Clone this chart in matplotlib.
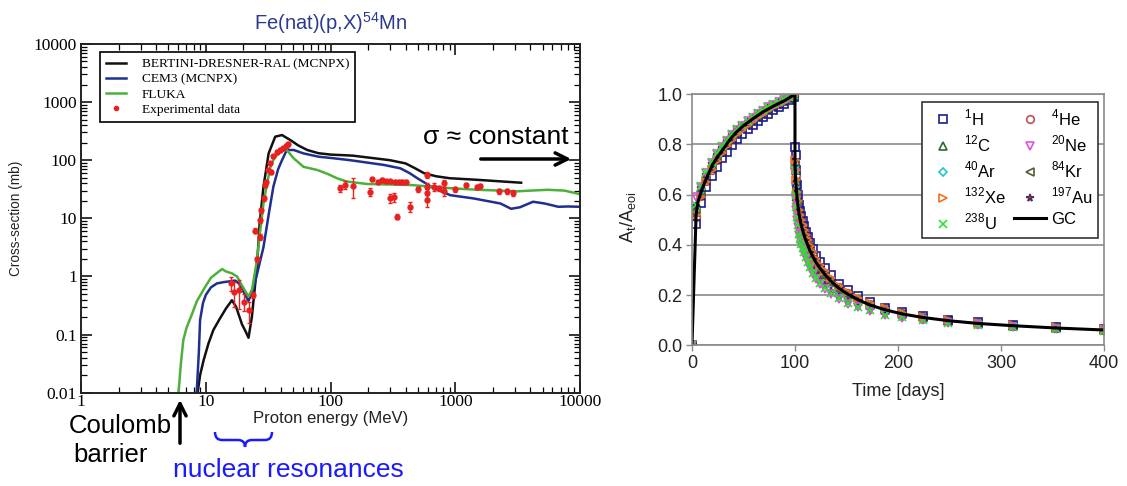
import numpy as np
import matplotlib
matplotlib.use('Agg')
import matplotlib.pyplot as plt
from matplotlib.path import Path
from matplotlib.patches import PathPatch
from matplotlib.lines import Line2D
from matplotlib.ticker import FixedLocator, LogLocator, NullFormatter

plt.rcParams['font.family'] = ['Liberation Sans', 'DejaVu Sans']
plt.rcParams['mathtext.fontset'] = 'custom'
plt.rcParams['mathtext.rm'] = 'Liberation Sans'

# ---------------- left panel: Fe(nat)(p,X)54Mn cross sections ----------------
bertini_E = [8.6, 9.0, 9.6, 10.5, 11.5, 13, 14.5, 16.2, 17.5, 19.5, 21, 22, 23.4, 25.7, 27,
             29, 31.9, 36, 40.8, 47.5, 55, 65, 80, 100, 150, 250, 300, 400, 480, 560, 700,
             900, 1500, 2400, 3370]
bertini_s = [0.01, 0.02, 0.036, 0.07, 0.12, 0.19, 0.28, 0.39, 0.3, 0.15, 0.11, 0.088, 0.2, 1.47, 8,
             35, 131, 254, 271, 223, 180, 150, 132, 125, 120, 105, 100, 88, 72, 60, 53,
             49, 46, 43, 41]

cem_E = [8.45, 8.8, 9.0, 9.5, 10, 11, 12.3, 14, 17.2, 18.5, 20, 22, 24, 26, 29, 32, 34.8,
         38, 40.8, 44.6, 50.6, 60.7, 80, 106, 144, 267, 363, 430, 496, 580, 670, 914, 1400,
         2300, 2800, 3300, 4200, 5200, 6700, 8000, 10000]
cem_s = [0.01, 0.05, 0.178, 0.35, 0.48, 0.65, 0.76, 0.8, 0.85, 0.75, 0.55, 0.38, 0.6, 1.2, 3.2, 12, 35,
         70, 100, 150, 150, 131, 115, 108, 100, 83, 72.5, 60, 49, 40, 33, 25, 22,
         18, 14.6, 15.5, 19.3, 18, 15.8, 16, 15.8]

fluka_E = [6.05, 6.3, 6.6, 7.0, 7.7, 8.5, 9.9, 11, 12.3, 13.5, 14.5, 16.2, 17.8, 19.5, 22, 23.5,
           25.7, 27, 29, 31, 33, 35.5, 38.2, 41, 44.6, 50.6, 60.7, 78, 95, 112.5, 135, 196,
           436, 914, 1500, 2300, 3000, 4000, 5500, 7500, 10000]
fluka_s = [0.01, 0.03, 0.08, 0.13, 0.217, 0.38, 0.665, 0.95, 1.15, 1.34, 1.22, 1.13, 1.0, 0.7, 0.45, 0.6,
           1.9, 5, 18, 40, 77, 110, 131, 145, 150, 108, 77, 68, 58, 49, 43, 39,
           37.5, 33, 31, 30, 29, 30, 31, 30, 26]

exp_E = [16.0, 16.7, 18.3, 20.3, 22.0, 23.9, 24.6, 25.7, 27.0, 27.3, 27.7, 29.4, 30.0, 30.5, 31.5,
         33.0, 33.4, 34.7, 37.1, 39.5, 41.9, 44.0, 45.5, 120, 131, 150, 208, 215, 240, 260, 280,
         300, 300, 320, 330, 343, 352, 375, 400, 437, 506, 594, 594, 594, 594, 670, 735, 810,
         810, 1000, 1220, 1500, 1590, 2230, 2600, 2900]
exp_s = [0.76, 0.55, 0.58, 0.37, 0.26, 0.48, 6.1, 2.0, 4.8, 9.3, 13.9, 22, 37, 43, 68,
         88, 63, 116, 140, 150, 160, 175, 190, 33, 37.5, 36, 28.7, 47, 43, 46, 43.5,
         43.5, 22, 23, 43, 10.7, 43, 42.5, 43, 15.8, 31.5, 56, 35, 27, 20.6, 35, 33, 40,
         29.5, 31.5, 37.5, 35, 36, 29, 29, 27.6]
exp_err = [0.2, 0.25, 0.3, 0.12, 0.1, 0.05, 0.6, 0.2, 0.5, 0.9, 1.3, 2, 3, 3, 5,
           6, 5, 8, 10, 10, 12, 12, 15, 5, 6, 14, 4, 3, 3, 3, 3,
           3, 4, 4, 3, 1, 3, 3, 3, 3, 3, 6, 5, 5, 5, 5, 3, 6,
           5, 3, 3, 3, 3, 3, 3, 3]

# ---------------- right panel: activity build-up and decay ----------------
t_rise = [0, 4, 9, 14, 19, 24, 29, 34, 39, 44, 49, 54, 59, 64, 69, 74, 79, 84, 89, 94, 99]
t_decay = [100, 100.6, 101.3, 102.2, 103.1, 104.3, 105.2, 106.1, 107.3, 108.7, 110.4, 112.3,
           114.7, 117.5, 120.8, 124.7, 129.4, 135, 143, 151.5, 161, 172.5, 187, 204, 224,
           249, 278, 312, 353, 400]

gc_t = [0, 4, 6, 10, 14, 20, 25, 30, 36, 42, 50, 60, 69, 80, 90, 100,
        100, 100.6, 101.3, 102.2, 103.1, 104.3, 105.2, 106.1, 107.3, 108.7, 110.4, 112.3,
        114.7, 117.5, 120.8, 124.7, 129.4, 135, 143, 151.5, 161, 172.5, 187, 204, 224,
        249, 278, 312, 353, 400]
gc_y = [0, 0.52, 0.575, 0.625, 0.665, 0.72, 0.752, 0.78, 0.815, 0.845, 0.875, 0.905, 0.93, 0.955, 0.975, 1.0,
        0.72, 0.66, 0.62, 0.58, 0.55, 0.515, 0.495, 0.478, 0.46, 0.44, 0.42, 0.40,
        0.375, 0.352, 0.328, 0.305, 0.28, 0.255, 0.226, 0.203, 0.182, 0.161, 0.142, 0.125, 0.111,
        0.098, 0.087, 0.078, 0.069, 0.061]

h1_rise = [0, 0.483, 0.568, 0.63, 0.675, 0.712, 0.745, 0.772, 0.797, 0.82, 0.84, 0.86, 0.877,
           0.893, 0.908, 0.922, 0.936, 0.95, 0.963, 0.976, 0.99]
h1_decay = [0.79, 0.76, 0.70, 0.64, 0.60, 0.56, 0.535, 0.515, 0.495, 0.475, 0.453, 0.432, 0.407,
            0.383, 0.357, 0.333, 0.307, 0.28, 0.246, 0.22, 0.196, 0.172, 0.150, 0.131, 0.116,
            0.102, 0.091, 0.081, 0.072, 0.064]
he4_rise = [0, 0.51, 0.595, 0.655, 0.7, 0.74, 0.77, 0.798, 0.823, 0.845, 0.864, 0.881, 0.897,
            0.912, 0.926, 0.94, 0.952, 0.963, 0.973, 0.984, 0.995]
he4_decay = [0.73, 0.68, 0.635, 0.595, 0.56, 0.525, 0.505, 0.488, 0.47, 0.45, 0.43, 0.41, 0.385,
             0.362, 0.337, 0.313, 0.288, 0.262, 0.232, 0.208, 0.186, 0.165, 0.145, 0.127, 0.113,
             0.1, 0.089, 0.079, 0.07, 0.062]
c12_rise = [0, 0.53, 0.605, 0.665, 0.71, 0.748, 0.777, 0.805, 0.83, 0.85, 0.868, 0.885, 0.9,
            0.915, 0.93, 0.943, 0.955, 0.965, 0.975, 0.985, 0.996]
c12_decay = [0.72, 0.66, 0.62, 0.58, 0.55, 0.515, 0.495, 0.478, 0.46, 0.44, 0.42, 0.40, 0.375,
             0.352, 0.328, 0.305, 0.28, 0.255, 0.226, 0.203, 0.182, 0.161, 0.142, 0.125, 0.111,
             0.098, 0.087, 0.078, 0.069, 0.061]
ne20_rise = [0, 0.59, 0.63, 0.685, 0.727, 0.762, 0.79, 0.815, 0.838, 0.858, 0.875, 0.892, 0.907,
             0.921, 0.935, 0.948, 0.959, 0.969, 0.979, 0.988, 0.998]
ne20_decay = [0.69, 0.58, 0.54, 0.50, 0.47, 0.44, 0.42, 0.40, 0.382, 0.364, 0.346, 0.326, 0.306,
              0.285, 0.265, 0.245, 0.226, 0.206, 0.184, 0.166, 0.151, 0.137, 0.121, 0.11, 0.099,
              0.089, 0.08, 0.072, 0.065, 0.058]
ar40_rise = [0, 0.55, 0.615, 0.672, 0.716, 0.753, 0.782, 0.809, 0.833, 0.853, 0.871, 0.887, 0.902,
             0.917, 0.931, 0.944, 0.956, 0.966, 0.976, 0.986, 0.997]
ar40_decay = [0.71, 0.64, 0.60, 0.56, 0.53, 0.495, 0.476, 0.46, 0.442, 0.423, 0.404, 0.384, 0.36,
              0.338, 0.315, 0.293, 0.269, 0.245, 0.217, 0.196, 0.176, 0.156, 0.138, 0.121, 0.108,
              0.096, 0.085, 0.076, 0.068, 0.06]
kr84_rise = [0, 0.54, 0.61, 0.668, 0.713, 0.75, 0.779, 0.807, 0.831, 0.851, 0.869, 0.886, 0.901,
             0.916, 0.93, 0.943, 0.955, 0.965, 0.975, 0.985, 0.996]
kr84_decay = [0.72, 0.65, 0.61, 0.57, 0.54, 0.505, 0.486, 0.469, 0.451, 0.432, 0.412, 0.392, 0.368,
              0.345, 0.322, 0.299, 0.275, 0.25, 0.222, 0.2, 0.179, 0.159, 0.14, 0.123, 0.11,
              0.097, 0.086, 0.077, 0.069, 0.061]
xe132_rise = [0, 0.52, 0.59, 0.65, 0.697, 0.735, 0.765, 0.793, 0.818, 0.84, 0.859, 0.877, 0.893,
              0.908, 0.922, 0.936, 0.949, 0.96, 0.971, 0.982, 0.995]
xe132_decay = [0.74, 0.70, 0.66, 0.61, 0.575, 0.54, 0.52, 0.50, 0.48, 0.46, 0.44, 0.418, 0.394,
               0.37, 0.345, 0.32, 0.295, 0.268, 0.237, 0.213, 0.19, 0.168, 0.147, 0.129, 0.114,
               0.101, 0.09, 0.08, 0.071, 0.063]
au197_rise = [0, 0.555, 0.625, 0.68, 0.722, 0.758, 0.786, 0.813, 0.837, 0.857, 0.875, 0.891, 0.906,
              0.92, 0.934, 0.947, 0.958, 0.968, 0.978, 0.987, 0.997]
au197_decay = [0.71, 0.62, 0.575, 0.535, 0.5, 0.465, 0.445, 0.428, 0.41, 0.39, 0.37, 0.35, 0.327,
               0.305, 0.283, 0.262, 0.24, 0.218, 0.194, 0.174, 0.157, 0.142, 0.125, 0.113, 0.101,
               0.091, 0.081, 0.073, 0.066, 0.059]
u238_rise = [0, 0.56, 0.635, 0.69, 0.73, 0.765, 0.792, 0.818, 0.842, 0.862, 0.879, 0.895, 0.91,
             0.924, 0.937, 0.95, 0.961, 0.971, 0.98, 0.989, 0.998]
u238_decay = [0.70, 0.60, 0.55, 0.51, 0.48, 0.445, 0.425, 0.405, 0.388, 0.37, 0.352, 0.332, 0.312,
              0.29, 0.27, 0.25, 0.23, 0.21, 0.187, 0.168, 0.153, 0.139, 0.122, 0.112, 0.1,
              0.09, 0.081, 0.073, 0.066, 0.058]

fig = plt.figure(figsize=(11.27, 4.86), dpi=100)

# ---- left axes ----
ax1 = fig.add_axes([0.0719, 0.192, 0.4428, 0.7175])
l1, = ax1.plot(bertini_E, bertini_s, color='#111111', lw=1.8)
l2, = ax1.plot(cem_E, cem_s, color='#1f2f8f', lw=1.8)
l3, = ax1.plot(fluka_E, fluka_s, color='#4cb03a', lw=1.8)
lo = [min(e, s * 0.6) for e, s in zip(exp_err, exp_s)]
ax1.errorbar(exp_E, exp_s, yerr=[lo, exp_err], fmt='o', ms=3.5, color='#e82020',
             ecolor='#e82020', elinewidth=1, capsize=1.5)
dot = Line2D([], [], ls='none', marker='o', ms=3, color='#e82020')
ax1.set_xscale('log')
ax1.set_yscale('log')
ax1.set_xlim(1, 10000)
ax1.set_ylim(0.01, 10000)
xt = [1, 10, 100, 1000, 10000]
yt = [0.01, 0.1, 1, 10, 100, 1000, 10000]
ax1.xaxis.set_major_locator(FixedLocator(xt))
ax1.yaxis.set_major_locator(FixedLocator(yt))
ax1.set_xticklabels(['1', '10', '100', '1000', '10000'], family='Liberation Serif', fontsize=12.5)
ax1.set_yticklabels(['0.01', '0.1', '1', '10', '100', '1000', '10000'], family='Liberation Serif', fontsize=12.5)
ax1.xaxis.set_minor_locator(LogLocator(base=10, subs=np.arange(2, 10)))
ax1.yaxis.set_minor_locator(LogLocator(base=10, subs=np.arange(2, 10)))
ax1.xaxis.set_minor_formatter(NullFormatter())
ax1.yaxis.set_minor_formatter(NullFormatter())
ax1.tick_params(which='major', direction='in', length=8, width=1.1, top=True, right=True, pad=3)
ax1.tick_params(axis='x', which='major', pad=1)
ax1.tick_params(which='minor', direction='in', length=4, width=0.9, top=True, right=True)
for sp in ax1.spines.values():
    sp.set_linewidth(1.4)
    sp.set_color('#222222')
ax1.set_xlabel('Proton energy (MeV)', fontsize=12, labelpad=1, color='#222222')
ax1.set_ylabel('Cross-section (mb)', fontsize=9.8, labelpad=8, color='#222222')
leg1 = ax1.legend([l1, l2, l3, dot],
                  ['BERTINI-DRESNER-RAL (MCNPX)', 'CEM3 (MCNPX)', 'FLUKA', 'Experimental data'],
                  loc='upper left', bbox_to_anchor=(0.038, 0.977), borderaxespad=0,
                  prop={'family': 'Liberation Serif', 'size': 9.6}, handlelength=1.5,
                  handletextpad=1.2, labelspacing=0.22, fancybox=False, edgecolor='black',
                  framealpha=1, borderpad=0.45)
leg1.get_frame().set_linewidth(1.2)

fig.text(331 / 1127, 1 - 23 / 486, r'Fe(nat)(p,X)$^{54}$Mn', ha='center', va='center',
         fontsize=14.5, color='#2b3a8f')
fig.text(423 / 1127, 1 - 137 / 486, u'\u03c3 \u2248 constant', ha='left', va='center', fontsize=19)
ax1.annotate('', xy=(574 / 1127, 1 - 159 / 486), xytext=(478 / 1127, 1 - 159 / 486),
             xycoords='figure fraction', textcoords='figure fraction',
             arrowprops=dict(arrowstyle='->', lw=2.5, color='black', mutation_scale=22))
fig.text(172 / 1127, 1 - 426 / 486, 'Coulomb', ha='right', va='center', fontsize=18.5)
fig.text(111 / 1127, 1 - 455 / 486, 'barrier', ha='center', va='center', fontsize=18.5)
ax1.annotate('', xy=(180 / 1127, 1 - 397 / 486), xytext=(180 / 1127, 1 - 446 / 486),
             xycoords='figure fraction', textcoords='figure fraction',
             arrowprops=dict(arrowstyle='->', lw=2.5, color='black', mutation_scale=22))
fig.text(288 / 1127, 1 - 470 / 486, 'nuclear resonances', ha='center', va='center',
         fontsize=19, color='#1a1aff')

bx = [215, 215, 222, 238, 245, 245, 245, 252, 265, 272, 272]
by = [432, 440, 440, 440, 440, 447, 440, 440, 440, 440, 432]
verts = [(x / 1127, 1 - y / 486) for x, y in zip(bx, by)]
codes = [Path.MOVETO, Path.CURVE3, Path.CURVE3, Path.LINETO, Path.CURVE3, Path.CURVE3,
         Path.CURVE3, Path.CURVE3, Path.LINETO, Path.CURVE3, Path.CURVE3]
fig.patches.append(PathPatch(Path(verts, codes), fill=False, edgecolor='#1a1aff', lw=1.8,
                             transform=fig.transFigure))

# ---- right axes ----
ax2 = fig.add_axes([0.614, 0.2895, 0.3656, 0.5165])
series = [
    (r'$^{1}$H', h1_rise, h1_decay, 's', '#1c1c8c'),
    (r'$^{12}$C', c12_rise, c12_decay, '^', '#2f6a2f'),
    (r'$^{40}$Ar', ar40_rise, ar40_decay, 'D', '#20c8c8'),
    (r'$^{132}$Xe', xe132_rise, xe132_decay, '>', '#f07020'),
    (r'$^{238}$U', u238_rise, u238_decay, 'x', '#30e030'),
    (r'$^{4}$He', he4_rise, he4_decay, 'o', '#c05050'),
    (r'$^{20}$Ne', ne20_rise, ne20_decay, 'v', '#e050e0'),
    (r'$^{84}$Kr', kr84_rise, kr84_decay, '<', '#5a5a3a'),
    (r'$^{197}$Au', au197_rise, au197_decay, '*', '#5a2a5a'),
]
handles = {}
draw_order = ['$^{4}$He', '$^{12}$C', '$^{40}$Ar', '$^{84}$Kr', '$^{197}$Au',
              '$^{1}$H', '$^{132}$Xe', '$^{20}$Ne', '$^{238}$U']
for lab, yr, yd, mk, col in sorted(series, key=lambda s: draw_order.index(s[0])):
    ms = 5.5 if mk != 'D' else 4.5
    if mk == 'x':
        h, = ax2.plot(t_rise + t_decay, yr + yd, ls='none', marker=mk, ms=5.5, mew=1.2,
                      color=col)
    else:
        h, = ax2.plot(t_rise + t_decay, yr + yd, ls='none', marker=mk, ms=ms, mew=1.2,
                      mfc='none', mec=col)
    handles[lab] = h
gc, = ax2.plot(gc_t, gc_y, color='black', lw=2.2)
handles['GC'] = gc

ax2.set_xlim(0, 400)
ax2.set_ylim(0, 1.0)
ax2.set_xticks([0, 100, 200, 300, 400])
ax2.set_yticks([0.0, 0.2, 0.4, 0.6, 0.8, 1.0])
ax2.set_yticklabels(['0.0', '0.2', '0.4', '0.6', '0.8', '1.0'])
ax2.grid(axis='y', color='#8a8a8a', lw=1.2)
ax2.set_axisbelow(True)
for sp in ax2.spines.values():
    sp.set_color('#8a8a8a')
    sp.set_linewidth(1.2)
ax2.tick_params(direction='out', length=4, width=1, color='#8a8a8a', labelsize=13,
                labelcolor='#222222', pad=3)
ax2.set_xlabel('Time [days]', fontsize=13, labelpad=8, color='#222222')
ax2.set_ylabel(r'A$_{\rm t}$/A$_{\rm eoi}$', fontsize=13, color='#222222')
ax2.yaxis.set_label_coords(-0.13, 0.51)

leg_order = [r'$^{1}$H', r'$^{12}$C', r'$^{40}$Ar', r'$^{132}$Xe', r'$^{238}$U',
             r'$^{4}$He', r'$^{20}$Ne', r'$^{84}$Kr', r'$^{197}$Au', 'GC']
leg2 = ax2.legend([handles[k] for k in leg_order], leg_order, ncol=2, loc='upper right',
                  bbox_to_anchor=(0.986, 0.97), borderaxespad=0, fontsize=12,
                  fancybox=False, edgecolor='#333333', framealpha=1, handlelength=1.9,
                  handletextpad=0.3, columnspacing=0.5, labelspacing=0.33, borderpad=0.35)
leg2.get_frame().set_linewidth(1.2)

fig.savefig('out.png', dpi=100)
